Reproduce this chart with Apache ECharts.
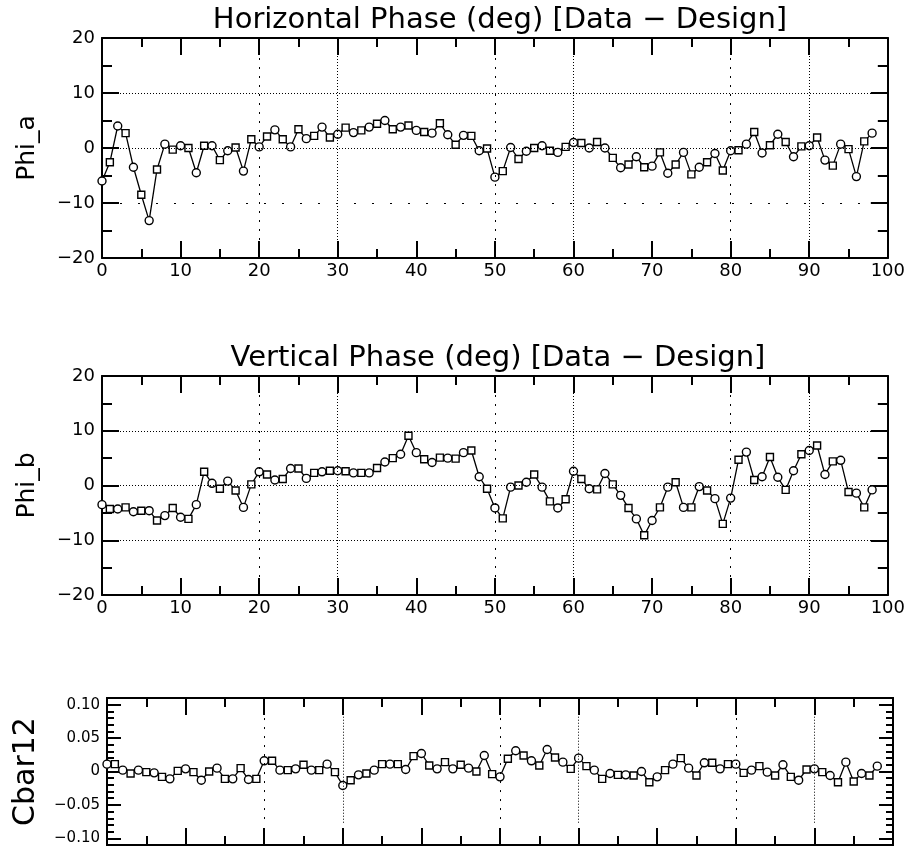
<!DOCTYPE html>
<html>
<head>
<meta charset="utf-8">
<script src="https://cdn.jsdelivr.net/npm/echarts@6/dist/echarts.min.js"></script>
<style>
html, body { margin: 0; padding: 0; background: #fff; }
#main { width: 908px; height: 847px; }
</style>
</head>
<body>
<div id="main"></div>
<script>
// BPM index 0..98, one value each
const phiA = [-6.0, -2.6, 4.0, 2.7, -3.5, -8.5, -13.2, -3.9, 0.7, -0.3,
    0.4, 0, -4.5, 0.4, 0.4, -2.2, -0.5, 0.1, -4.2, 1.6,
    0.2, 2.1, 3.3, 1.6, 0.2, 3.4, 1.7, 2.2, 3.8, 1.9,
    2.5, 3.7, 2.8, 3.2, 3.8, 4.4, 5.0, 3.4, 3.8, 4.1,
    3.2, 2.9, 2.7, 4.5, 2.4, 0.6, 2.3, 2.2, -0.5, -0.1,
    -5.3, -4.2, 0.1, -2.0, -0.6, 0, 0.4, -0.5, -0.8, 0.2,
    1.0, 0.9, 0, 1.1, 0, -1.8, -3.6, -3.0, -1.6, -3.5,
    -3.3, -0.8, -4.6, -3.0, -0.8, -4.8, -3.5, -2.6, -1.0, -4.1,
    -0.5, -0.4, 0.7, 2.9, -0.9, 0.5, 2.5, 1.1, -1.6, 0.3,
    0.4, 1.9, -2.2, -3.2, 0.7, -0.2, -5.2, 1.2, 2.7];

const phiB = [-3.5, -4.3, -4.3, -4.0, -4.8, -4.6, -4.6, -6.4, -5.5, -4.1,
    -5.8, -6.1, -3.5, 2.5, 0.4, -0.6, 0.8, -0.9, -4.0, 0.2,
    2.5, 2.0, 1.0, 1.2, 3.1, 3.1, 1.3, 2.3, 2.5, 2.7,
    2.7, 2.6, 2.3, 2.3, 2.3, 3.2, 4.3, 5.0, 5.7, 9.1,
    6.0, 4.8, 4.2, 5.1, 5.0, 4.9, 6.0, 6.4, 1.6, -0.6,
    -4.1, -6.0, -0.3, 0, 0.6, 2.0, -0.3, -2.9, -4.1, -2.5,
    2.6, 1.2, -0.6, -0.7, 2.2, 0.2, -1.8, -4.1, -6.1, -9.1,
    -6.4, -4.0, -0.3, 0.6, -4.0, -4.0, -0.2, -0.9, -2.4, -7.0,
    -2.3, 4.7, 6.1, 1.0, 1.6, 5.2, 1.5, -0.8, 2.7, 5.7,
    6.4, 7.3, 2.0, 4.4, 4.6, -1.2, -1.4, -4.0, -0.8];

const cbar12 = [0.011, 0.011, 0.002, -0.003, 0.002, -0.001, -0.002, -0.008, -0.011, 0.001,
    0.004, -0.001, -0.013, 0, 0.005, -0.011, -0.011, 0.005, -0.012, -0.011,
    0.016, 0.016, 0.002, 0.002, 0.004, 0.010, 0.002, 0.002, 0.011, -0.001,
    -0.021, -0.013, -0.005, -0.003, 0.002, 0.011, 0.011, 0.011, 0.003, 0.023,
    0.027, 0.009, 0.004, 0.014, 0.004, 0.010, 0.005, 0, 0.024, -0.004,
    -0.008, 0.019, 0.031, 0.024, 0.016, 0.009, 0.033, 0.021, 0.014, 0.004,
    0.020, 0.008, 0.002, -0.011, -0.003, -0.005, -0.005, -0.006, 0, -0.016,
    -0.008, 0.002, 0.011, 0.020, 0.005, -0.006, 0.013, 0.013, 0.004, 0.011,
    0.011, -0.002, 0.002, 0.008, -0.001, -0.006, 0.010, -0.008, -0.013, 0.003,
    0.004, -0.001, -0.006, -0.016, 0.014, -0.015, -0.003, -0.006, 0.008];

const cbarLabels = [-0.1, -0.05, 0, 0.05, 0.1];
const denseX = [30, 60, 90];
const sparseX = [20, 50, 80];
const phaseLines = [10, 0, -10];

const font = 'DejaVu Sans';
const black = '#000';

function toPoints(arr) {
    return arr.map(function (v, i) { return [i, v]; });
}

function minus(s) {
    return String(s).replace('-', '\u2212');
}

function xAxes(grid, withLabels) {
    let base = {
        type: 'value', gridIndex: grid, min: 0, max: 100, interval: 10,
        axisLine: { show: true, onZero: false, lineStyle: { color: black, width: 2 } },
        axisTick: { inside: true, length: 17, lineStyle: { color: black, width: 2 } },
        minorTick: { show: true, splitNumber: 2, length: 9, lineStyle: { color: black, width: 2 } },
        splitLine: { show: false }
    };
    let bottom = Object.assign({}, base, {
        position: 'bottom',
        axisLabel: { show: withLabels, color: black, fontFamily: font, fontSize: 18, margin: 4 }
    });
    let top = Object.assign({}, base, { position: 'top', axisLabel: { show: false } });
    return [bottom, top];
}

function phaseYAxes(grid, name) {
    let base = {
        type: 'value', gridIndex: grid, min: -20, max: 20, interval: 10,
        axisLine: { show: true, onZero: false, lineStyle: { color: black, width: 2 } },
        axisTick: { inside: true, length: 17, lineStyle: { color: black, width: 2 } },
        minorTick: { show: true, splitNumber: 2, length: 10, lineStyle: { color: black, width: 2 } },
        splitLine: { show: false }
    };
    let left = Object.assign({}, base, {
        position: 'left',
        name: name, nameLocation: 'middle', nameGap: 62, nameRotate: 90,
        nameTextStyle: { color: black, fontFamily: font, fontSize: 25 },
        axisLabel: { color: black, fontFamily: font, fontSize: 18, margin: 7, formatter: minus }
    });
    let right = Object.assign({}, base, { position: 'right', axisLabel: { show: false } });
    return [left, right];
}

function cbarYAxes(grid) {
    let base = {
        type: 'value', gridIndex: grid, min: -0.11, max: 0.11,
        axisLine: { show: true, onZero: false, lineStyle: { color: black, width: 2 } },
        splitLine: { show: false }
    };
    let small = { interval: 0.01, axisLabel: { show: false },
        axisTick: { inside: true, length: 7, lineStyle: { color: black, width: 2 } } };
    let big = {
        axisTick: { inside: true, length: 14, customValues: cbarLabels, lineStyle: { color: black, width: 2 } }
    };
    return [
        Object.assign({}, base, small, { position: 'left' }),
        Object.assign({}, base, big, {
            position: 'left',
            name: 'Cbar12', nameLocation: 'middle', nameGap: 66, nameRotate: 90,
            nameTextStyle: { color: black, fontFamily: font, fontSize: 30 },
            axisLabel: {
                customValues: cbarLabels, color: black, fontFamily: font, fontSize: 15, margin: 7,
                formatter: function (v) { return v === 0 ? '0' : minus(v.toFixed(2)); }
            }
        }),
        Object.assign({}, base, small, { position: 'right' }),
        Object.assign({}, base, big, { position: 'right', axisLabel: { show: false } })
    ];
}

function vLine(x, dash, yFrom, yTo) {
    if (yFrom === undefined) {
        return { xAxis: x, lineStyle: { type: dash, color: black, width: 1 } };
    }
    return [
        { coord: [x, yFrom], lineStyle: { type: dash, color: black, width: 1 } },
        { coord: [x, yTo] }
    ];
}

function dataSeries(values, xi, yi, marks) {
    return {
        type: 'line', xAxisIndex: xi, yAxisIndex: yi,
        data: toPoints(values),
        showAllSymbol: true,
        symbol: function (val, p) { return p.dataIndex % 2 ? 'rect' : 'circle'; },
        symbolSize: function (val, p) { return p.dataIndex % 2 ? 7 : 8; },
        lineStyle: { color: black, width: 1.3 },
        itemStyle: { color: '#fff', borderColor: black, borderWidth: 1.4 },
        markLine: {
            silent: true, symbol: 'none', label: { show: false }, animation: false,
            data: marks
        }
    };
}

function phaseMarks(hSparse) {
    let m = [];
    denseX.forEach(function (x) { m.push(vLine(x, [1, 2])); });
    sparseX.forEach(function (x) { m.push(vLine(x, [2, 7])); });
    phaseLines.forEach(function (y) {
        let dash = (hSparse && y === -10) ? [2, 16] : [1, 2];
        m.push({ yAxis: y, lineStyle: { type: dash, color: black, width: 1 } });
    });
    return m;
}

let cbarMarks = [];
denseX.forEach(function (x) { cbarMarks.push(vLine(x, [1, 2], 0.082, -0.078)); });
sparseX.forEach(function (x) { cbarMarks.push(vLine(x, [2, 7], 0.08, -0.075)); });

let chart = echarts.init(document.getElementById('main'), null, { renderer: 'canvas' });
let option = {
    animation: false,
    backgroundColor: '#fff',
    title: [
        {
            text: 'Horizontal Phase (deg) [Data \u2212 Design]', left: 495, top: 1, textAlign: 'center',
            textStyle: { color: black, fontFamily: font, fontWeight: 'normal', fontSize: 29 }
        },
        {
            text: 'Vertical Phase (deg) [Data \u2212 Design]', left: 493, top: 339, textAlign: 'center',
            textStyle: { color: black, fontFamily: font, fontWeight: 'normal', fontSize: 29 }
        }
    ],
    grid: [
        { left: 102, top: 38, width: 786, height: 220 },
        { left: 102, top: 376, width: 786, height: 219 },
        { left: 107, top: 698, width: 786, height: 147 }
    ],
    xAxis: [].concat(xAxes(0, true), xAxes(1, true), xAxes(2, false)),
    yAxis: [].concat(phaseYAxes(0, 'Phi_a'), phaseYAxes(1, 'Phi_b'), cbarYAxes(2)),
    series: [
        dataSeries(phiA, 0, 0, phaseMarks(true)),
        dataSeries(phiB, 2, 2, phaseMarks(false)),
        dataSeries(cbar12, 4, 5, cbarMarks)
    ]
};
chart.setOption(option);
</script>
</body>
</html>
